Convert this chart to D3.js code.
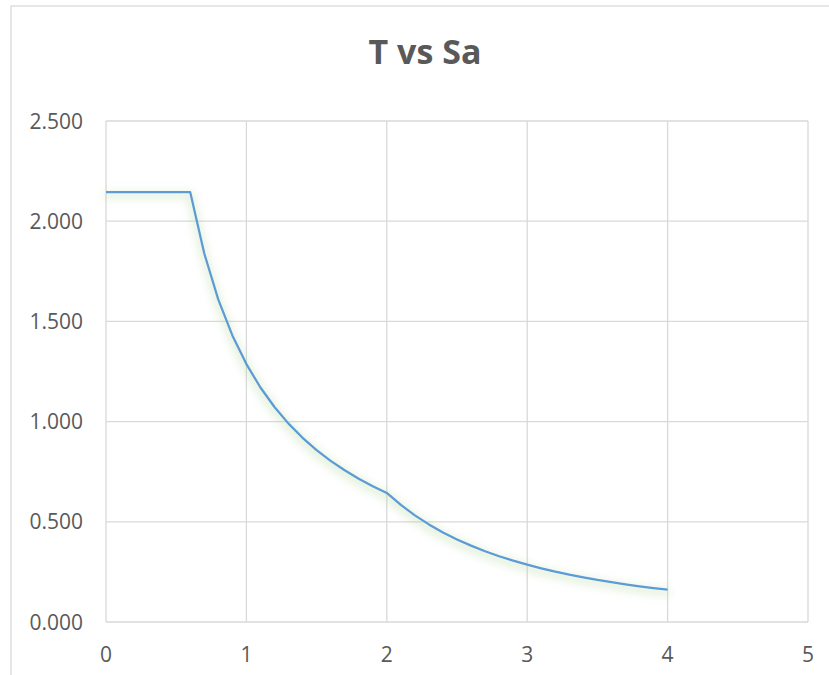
<!DOCTYPE html>
<html>
<head>
<meta charset="utf-8">
<script src="https://cdn.jsdelivr.net/npm/d3@7"></script>
<style>
  body { margin: 0; background: #fff; }
  svg { display: block; }
  text { font-family: "Open Sans", "Liberation Sans", sans-serif; fill: #595959; }
</style>
</head>
<body>
<div id="VisContainer"></div>
<script>
// T (s) and Sa values
periods = [0, 0.1, 0.2, 0.3, 0.4, 0.5, 0.6, 0.7, 0.8, 0.9, 1.0, 1.1, 1.2, 1.3, 1.4, 1.5, 1.6, 1.7, 1.8, 1.9, 2.0,
           2.1, 2.2, 2.3, 2.4, 2.5, 2.6, 2.7, 2.8, 2.9, 3.0, 3.1, 3.2, 3.3, 3.4, 3.5, 3.6, 3.7, 3.8, 3.9, 4.0];
saValues = [2.145, 2.145, 2.145, 2.145, 2.145, 2.145, 2.145, 1.839, 1.609, 1.430, 1.287, 1.170, 1.073, 0.990, 0.919, 0.858, 0.804, 0.757, 0.715, 0.677, 0.644,
            0.584, 0.532, 0.487, 0.447, 0.412, 0.381, 0.353, 0.328, 0.306, 0.286, 0.268, 0.251, 0.236, 0.223, 0.210, 0.199, 0.188, 0.178, 0.169, 0.161];
xTicks = [0, 1, 2, 3, 4, 5];
yTicks = [0, 0.5, 1.0, 1.5, 2.0, 2.5];
chartTitle = "T vs Sa";

lineColor = "#5b9bd5";
gridColor = "#d9d9d9";

width = 829;
height = 675;
plot = {left: 106, right: 808, top: 121, bottom: 622};

var data = periods.map(function(t, i){ return {t: t, sa: saValues[i]}; });

svg = d3.select("#VisContainer").append("svg")
        .attr("width", width)
        .attr("height", height);

// soft green glow under the series
var defs = svg.append("defs");
var glow = defs.append("filter").attr("id", "glow")
      .attr("x", "-10%").attr("y", "-10%").attr("width", "120%").attr("height", "130%");
glow.append("feFlood").attr("flood-color", "#a9d18e").attr("flood-opacity", 0.35).attr("result", "c");
glow.append("feComposite").attr("in", "c").attr("in2", "SourceAlpha").attr("operator", "in").attr("result", "s");
glow.append("feMorphology").attr("in", "s").attr("operator", "dilate").attr("radius", 2).attr("result", "d");
glow.append("feGaussianBlur").attr("in", "d").attr("stdDeviation", 4).attr("result", "b");
glow.append("feOffset").attr("in", "b").attr("dy", 3).attr("result", "o");
var merge = glow.append("feMerge");
merge.append("feMergeNode").attr("in", "o");
merge.append("feMergeNode").attr("in", "SourceGraphic");

// chart outline (runs off the right and bottom of the picture)
svg.append("rect")
   .attr("x", 11).attr("y", 6)
   .attr("width", 840).attr("height", 700)
   .attr("fill", "none")
   .attr("stroke", gridColor)
   .attr("stroke-width", 1.3);

x = d3.scaleLinear().domain([0, 5]).range([plot.left, plot.right]);
y = d3.scaleLinear().domain([0, 2.5]).range([plot.bottom, plot.top]);

// gridlines
svg.append("g").selectAll("line.h")
   .data(yTicks).enter().append("line")
   .attr("x1", plot.left).attr("x2", plot.right)
   .attr("y1", function(d){ return y(d); })
   .attr("y2", function(d){ return y(d); })
   .attr("stroke", gridColor).attr("stroke-width", 1.3);

svg.append("g").selectAll("line.v")
   .data(xTicks).enter().append("line")
   .attr("y1", plot.top).attr("y2", plot.bottom)
   .attr("x1", function(d){ return x(d); })
   .attr("x2", function(d){ return x(d); })
   .attr("stroke", gridColor).attr("stroke-width", 1.3);

// tick labels
svg.append("g").selectAll("text")
   .data(yTicks).enter().append("text")
   .attr("x", 83)
   .attr("y", function(d){ return y(d); })
   .attr("dy", "0.36em")
   .attr("text-anchor", "end")
   .style("font-size", "21px")
   .text(function(d){ return d3.format(".3f")(d); });

svg.append("g").selectAll("text")
   .data(xTicks).enter().append("text")
   .attr("x", function(d){ return x(d); })
   .attr("y", 662)
   .attr("text-anchor", "middle")
   .style("font-size", "21px")
   .text(function(d){ return d; });

// title
svg.append("text")
   .attr("x", 425).attr("y", 64)
   .attr("text-anchor", "middle")
   .style("font-size", "34px")
   .style("font-weight", "bold")
   .text(chartTitle);

// series
var line = d3.line()
     .x(function(d){ return x(d.t); })
     .y(function(d){ return y(d.sa); });

svg.append("path")
   .datum(data)
   .attr("d", line)
   .attr("fill", "none")
   .attr("stroke", lineColor)
   .attr("stroke-width", 2.25)
   .attr("stroke-linejoin", "round")
   .attr("filter", "url(#glow)");
</script>
</body>
</html>
